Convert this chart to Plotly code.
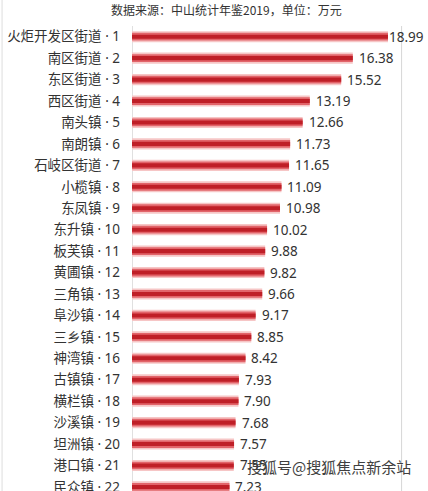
import plotly.graph_objects as go

# 中山各镇街 (数据来源：中山统计年鉴2019，单位：万元)
towns = ['火炬开发区街道', '南区街道', '东区街道', '西区街道', '南头镇', '南朗镇',
         '石岐区街道', '小榄镇', '东凤镇', '东升镇', '板芙镇', '黄圃镇', '三角镇',
         '阜沙镇', '三乡镇', '神湾镇', '古镇镇', '横栏镇', '沙溪镇', '坦洲镇',
         '港口镇', '民众镇']
values = [18.99, 16.38, 15.52, 13.19, 12.66, 11.73, 11.65, 11.09, 10.98, 10.02,
          9.88, 9.82, 9.66, 9.17, 8.85, 8.42, 7.93, 7.90, 7.68, 7.57, 7.55, 7.23]
ranks = list(range(1, len(towns) + 1))
labels = [f'{t} · {r}' for t, r in zip(towns, ranks)]

title_text = '数据来源：中山统计年鉴2019，单位：万元'
watermark = '搜狐号@搜狐焦点新余站'

font_cjk = 'Noto Sans CJK SC, Microsoft YaHei, sans-serif'
font_mix = 'Noto Sans, Noto Sans CJK SC, sans-serif'  # latin dot/digits stay small

fig = go.Figure()

# fake the "tube" look with three stacked bars of decreasing width
for w, col in [(0.52, '#f6c6c6'), (0.36, '#e2646a'), (0.19, '#bf1f27')]:
    fig.add_trace(go.Bar(
        x=values, y=labels, orientation='h',
        width=w, marker=dict(color=col, line=dict(width=0)),
        hoverinfo='skip', showlegend=False
    ))

# value labels to the right of each bar
# (the longest one is nudged in a bit, like in the source picture)
vmax = max(values)
for lab, v in zip(labels, values):
    fig.add_annotation(
        x=v, y=lab, xref='x', yref='y', text=f'{v:.2f}',
        showarrow=False, xanchor='left', yanchor='middle',
        xshift=-1 if v == vmax else 4,
        font=dict(size=13.5, color='#333333', family=font_mix)
    )

fig.add_annotation(
    x=0.318, y=1.035, xref='paper', yref='paper', text=title_text,
    showarrow=False, xanchor='center', yanchor='middle',
    font=dict(size=12, color='#333333', family=font_cjk)
)

fig.add_annotation(
    x=0.949, y=0.052, xref='paper', yref='paper', text=watermark,
    showarrow=False, xanchor='right', yanchor='middle',
    font=dict(size=15, color='#404040', family=font_cjk)
)

# faint frame line on the far left
fig.add_shape(type='line', xref='paper', yref='paper',
              x0=-0.439, x1=-0.439, y0=0, y1=1.06,
              line=dict(color='#dddddd', width=1))
# the single light gridline at 20
fig.add_shape(type='line', xref='x', yref='paper',
              x0=20, x1=20, y0=0, y1=1,
              line=dict(color='#d6d6d6', width=1), layer='below')

fig.update_layout(
    width=428, height=491,
    margin=dict(l=132, r=0, t=26, b=0, pad=0),
    paper_bgcolor='white', plot_bgcolor='white',
    barmode='overlay',
    font=dict(family=font_cjk, color='#333333'),
    xaxis=dict(range=[0, 21.96], showticklabels=False, showgrid=False,
               zeroline=True, zerolinecolor='#e0e0e0', zerolinewidth=1,
               fixedrange=True, automargin=False),
    yaxis=dict(type='category', range=[21.19, -0.5], showgrid=False,
               tickfont=dict(size=13.5, color='#333333', family=font_mix),
               ticks='', ticklen=0, ticklabelstandoff=11, fixedrange=True,
               automargin=False),
)

# browser default body margin shifts the plot by 8px, drop it
fig.write_html('out.html', config={'displayModeBar': False},
               post_script="document.body.style.margin='0px';")
